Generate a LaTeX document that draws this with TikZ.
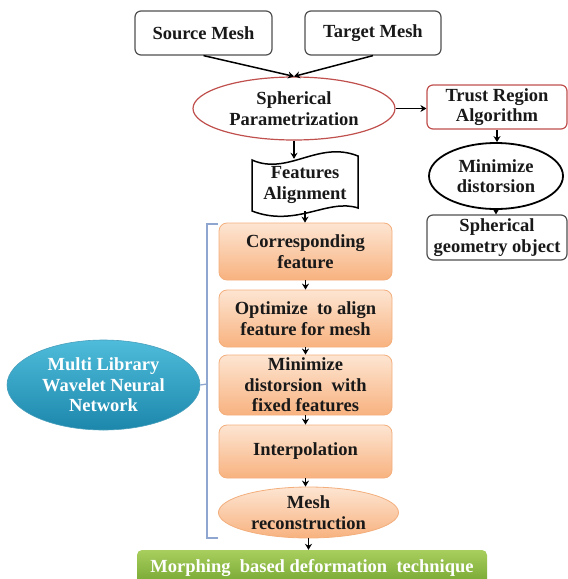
\documentclass[tikz,border=0pt]{standalone}
\usepackage{fontspec}
\setmainfont{Liberation Serif}
\usetikzlibrary{shapes.geometric,arrows.meta,calc}
\definecolor{boxgray}{HTML}{505050}
\definecolor{redline}{HTML}{C0504D}
\definecolor{orTop}{HTML}{FDE5D2}
\definecolor{orBot}{HTML}{F8B27F}
\definecolor{orLine}{HTML}{F3AE7C}
\definecolor{tealTop}{HTML}{4FBCDB}
\definecolor{tealBot}{HTML}{1C87AB}
\definecolor{grTop}{HTML}{A8CF5E}
\definecolor{grBot}{HTML}{74A430}
\definecolor{brk}{HTML}{8EA6D0}
\newcommand\dfont{\fontsize{18.5}{20.5}\selectfont\bfseries}
\begin{document}
\begin{tikzpicture}[x=1pt,y=-1pt,
  txt/.style={font=\dfont, align=center, inner sep=0pt, text=black!90},
  blackbox/.style={txt, draw=boxgray, line width=1.2pt, rounded corners=6pt, fill=white},
  redbox/.style={txt, draw=redline, line width=1.2pt, rounded corners=6pt, fill=white},
  orbox/.style={txt, draw=orLine, line width=0.8pt, rounded corners=8pt, top color=orTop, bottom color=orBot, minimum width=173pt},
  arr/.style={line width=1.5pt, -{Stealth[length=6pt,width=7pt]}},
  bracketline/.style={draw=brk, line width=1.3pt}
]
\useasboundingbox (0,0) rectangle (568,579);

% top boxes
\node[blackbox, minimum width=137pt, minimum height=44pt] (src) at (203.5,33) {Source Mesh};
\node[blackbox, minimum width=136pt, minimum height=44pt] (tgt) at (373,33) {Target Mesh};

% spherical parametrization
\node[txt, ellipse, draw=redline, line width=1.2pt, fill=white, minimum width=202pt, minimum height=63pt] (sp) at (294,108.5) {Spherical\\Parametrization};

% right column
\node[redbox, minimum width=140pt, minimum height=44pt] (tr) at (497,107) {Trust Region\\Algorithm};
\node[txt, ellipse, draw=black, line width=1.8pt, fill=white, minimum width=134pt, minimum height=66pt] (md) at (496,176) {Minimize\\distorsion};
\node[blackbox, minimum width=140pt, minimum height=45pt] (sg) at (497,237.5) {Spherical\\geometry object};

% features alignment (punched tape)
\draw[line width=1.5pt, fill=white]
  (252,160) .. controls (288,176) and (318,140) .. (358,156)
  -- (358,208) .. controls (328,198) and (296,228) .. (252,211) -- cycle;
\node[txt, minimum width=106pt, minimum height=52pt] (fa) at (305,185) {Features\\Alignment};

% orange column
\node[orbox, minimum height=57pt] (cf) at (305.5,251.5) {Corresponding\\feature};
\node[orbox, minimum height=57pt] (op) at (305.5,318.5) {Optimize~ to align\\feature for mesh};
\node[orbox, minimum height=60pt] (mdf) at (305.5,385) {Minimize\\distorsion~ with\\fixed features};
\node[orbox, minimum height=53pt] (ip) at (305.5,451.5) {Interpolation};
\node[txt, ellipse, draw=orLine, line width=0.8pt, top color=orTop, bottom color=orBot, minimum width=180pt, minimum height=51pt] (mr) at (308.5,512.5) {Mesh\\reconstruction};

% green bar
\node[txt, rounded corners=5pt, top color=grTop, bottom color=grBot, text=white, minimum width=350pt, minimum height=36pt] (mb) at (312,568) {Morphing~ based deformation~ technique};

% multi library ellipse
\node[txt, ellipse, top color=tealTop, bottom color=tealBot, draw=tealBot!80, line width=0.6pt, text=white, minimum width=193pt, minimum height=90pt] (ml) at (103.5,385) {Multi Library\\Wavelet Neural\\Network};

% bracket
\coordinate (bt) at (207,224);
\coordinate (bb) at (207,538);
\coordinate (bm) at (207,384);
\draw[bracketline] (218,224) -- (bt) -- (bb) -- (218,538);
\draw[bracketline] (bm) -- (ml.east);

% arrows
\draw[arr] (src.south) -- (sp.north);
\draw[arr] (tgt.south) -- (sp.north);
\draw[arr] (sp.east) -- (sp.east -| tr.west);
\draw[arr] (tr.south) -- (tr.south |- md.north);
\draw[arr] (md.south) -- (md.south |- sg.north);
\draw[arr] (sp.south) -- (sp.south |- fa.north);
\draw[arr] (fa.south) -- (fa.south |- cf.north);
\draw[arr] (cf.south) -- (op.north);
\draw[arr] (op.south) -- (mdf.north);
\draw[arr] (mdf.south) -- (ip.north);
\draw[arr] (ip.south) -- (ip.south |- mr.north);
\draw[arr] (mr.south) -- (mr.south |- mb.north);
\end{tikzpicture}
\end{document}
